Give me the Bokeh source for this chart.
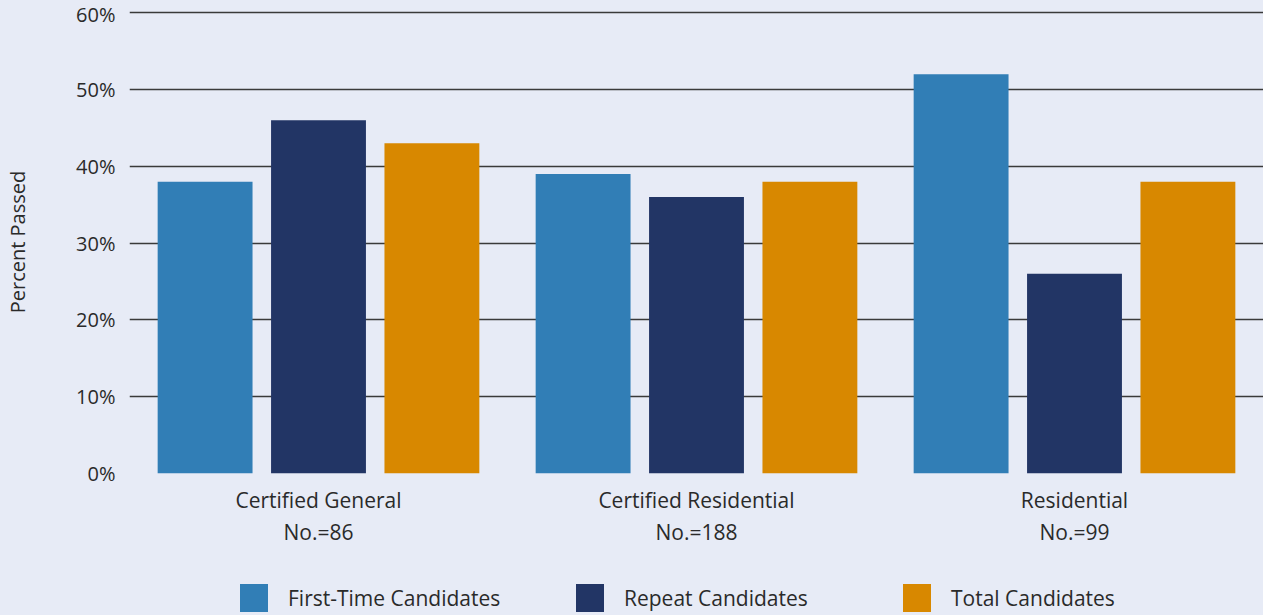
from bokeh.plotting import figure
from bokeh.layouts import column
from bokeh.models import (FactorRange, CategoricalAxis, Legend, LegendItem, FixedTicker,
                          ColumnDataSource, Range1d, PrintfTickFormatter)
from bokeh.transform import dodge
from bokeh.embed import file_html
from bokeh.resources import INLINE

categories = ["Certified General", "Certified Residential", "Residential"]
counts = ["No.=86", "No.=188", "No.=99"]
first_time = [38, 39, 52]
repeat = [46, 36, 26]
total = [43, 38, 38]
series_names = ["First-Time Candidates", "Repeat Candidates", "Total Candidates"]
colors = ["#317EB6", "#223565", "#D88800"]
y_ticks = [0, 10, 20, 30, 40, 50, 60]

BG = "#E7EBF6"
TXT = "#2a2a2a"
FONT = "Open Sans"

src = ColumnDataSource(dict(cat=categories, first=first_time, repeat=repeat, total=total))

p = figure(width=1263, height=560,
           x_range=FactorRange(*categories, range_padding=0),
           y_range=Range1d(0, 60.3),
           output_backend="svg", toolbar_location=None,
           min_border_top=10, min_border_bottom=87, min_border_right=0, min_border_left=129)
p.extra_x_ranges["counts"] = FactorRange(*counts, range_padding=0)

p.background_fill_color = None
p.border_fill_color = None
p.outline_line_color = None

offsets = [-0.3, 0.0, 0.3]
fields = ["first", "repeat", "total"]
for f, off, c in zip(fields, offsets, colors):
    p.vbar(x=dodge("cat", off, range=p.x_range), top=f, width=0.251, source=src,
           fill_color=c, line_color=None)

# grid
p.xgrid.grid_line_color = None
p.ygrid.ticker = FixedTicker(ticks=y_ticks)
p.ygrid.grid_line_color = "#3a3a3a"
p.ygrid.grid_line_width = 1.5
p.ygrid.level = "underlay"

# y axis
ya = p.yaxis[0]
ya.ticker = FixedTicker(ticks=y_ticks)
ya.formatter = PrintfTickFormatter(format="%d%%")
ya.axis_line_color = None
ya.major_tick_line_color = None
ya.minor_tick_line_color = None
ya.major_tick_out = 0
ya.minor_tick_out = 0
ya.major_label_standoff = 14
ya.major_label_text_font = FONT
ya.major_label_text_font_size = "20px"
ya.major_label_text_color = TXT
ya.axis_label = "Percent Passed"
ya.axis_label_text_font = FONT
ya.axis_label_text_font_size = "20px"
ya.axis_label_text_font_style = "normal"
ya.axis_label_text_color = TXT
ya.axis_label_standoff = 42

# x axis (category names)
xa = p.xaxis[0]
xa.axis_line_color = None
xa.major_tick_line_color = None
xa.minor_tick_line_color = None
xa.major_tick_out = 0
xa.minor_tick_out = 0
xa.major_label_standoff = 12
xa.major_label_text_font = FONT
xa.major_label_text_font_size = "21px"
xa.major_label_text_color = TXT

# second x axis (counts)
xa2 = CategoricalAxis(x_range_name="counts")
xa2.axis_line_color = None
xa2.major_tick_line_color = None
xa2.minor_tick_line_color = None
xa2.major_tick_out = 0
xa2.minor_tick_out = 0
xa2.major_label_standoff = 1
xa2.major_label_text_font = FONT
xa2.major_label_text_font_size = "21px"
xa2.major_label_text_color = TXT
p.add_layout(xa2, "below")

# legend strip: same bars drawn far outside its visible y range, used only as legend keys
lg = figure(width=1263, height=55, x_range=FactorRange(*categories, range_padding=0),
            y_range=Range1d(100, 101),
            output_backend="svg", toolbar_location=None,
            x_axis_location=None, y_axis_location=None,
            min_border=0, min_border_left=0, min_border_right=0,
            min_border_top=0, min_border_bottom=0)
lg.background_fill_color = None
lg.border_fill_color = None
lg.outline_line_color = None
lg.grid.grid_line_color = None
leg_x = [107, 443, 770]
for f, off, name, c, lx in zip(fields, offsets, series_names, colors, leg_x):
    r = lg.vbar(x=dodge("cat", off, range=lg.x_range), top=f, width=0.251, source=src,
                fill_color=c, line_color=None)
    leg = Legend(items=[LegendItem(label=name, renderers=[r])], location=(lx, 0),
                 orientation="horizontal", padding=0, margin=0,
                 background_fill_alpha=0, border_line_color=None,
                 glyph_width=35, glyph_height=35, label_standoff=17,
                 label_text_font=FONT, label_text_font_size="21px", label_text_color=TXT)
    lg.add_layout(leg)

layout = column(p, lg, spacing=0)
html = file_html(layout, INLINE)
html = html.replace("</head>", "<style>html, body { background: %s; }</style></head>" % BG, 1)
html = html.replace("<body>", '<body style="background:%s">' % BG, 1)
open("out.html", "w").write(html)
